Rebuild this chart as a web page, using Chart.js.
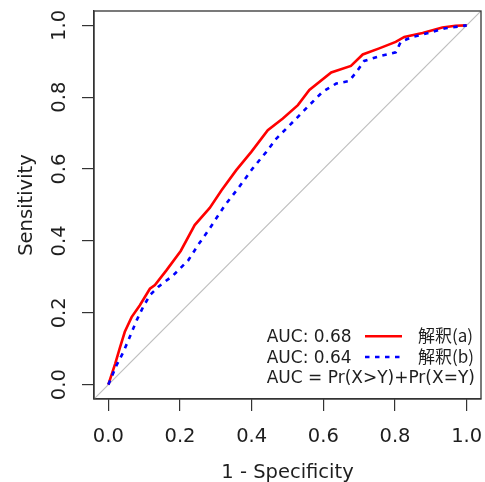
<!DOCTYPE html>
<html><head><meta charset="utf-8">
<script src="https://cdn.jsdelivr.net/npm/chart.js@4/dist/chart.umd.min.js"></script>
<style>html,body{margin:0;padding:0;background:#fff;}</style>
</head><body>
<canvas id="c" width="485" height="482" style="display:block;width:485px;height:482px"></canvas>
<script>
// ROC curve (a): 1 - specificity, sensitivity
const fprA = [0, 0.019, 0.033, 0.046, 0.065, 0.088, 0.116, 0.130, 0.162, 0.202, 0.241, 0.283, 0.316, 0.357, 0.399, 0.445, 0.487, 0.529, 0.561, 0.622, 0.677, 0.710, 0.756, 0.802, 0.826, 0.877, 0.932, 0.969, 1.0];
const tprA = [0, 0.058, 0.105, 0.147, 0.188, 0.221, 0.267, 0.277, 0.318, 0.372, 0.444, 0.492, 0.541, 0.597, 0.648, 0.708, 0.741, 0.778, 0.820, 0.869, 0.887, 0.919, 0.936, 0.954, 0.968, 0.979, 0.994, 0.999, 1.0];
// ROC curve (b)
const fprB = [0, 0.023, 0.042, 0.060, 0.079, 0.097, 0.116, 0.139, 0.181, 0.223, 0.252, 0.283, 0.325, 0.362, 0.403, 0.441, 0.469, 0.515, 0.552, 0.598, 0.636, 0.672, 0.696, 0.714, 0.756, 0.802, 0.816, 0.849, 0.895, 0.941, 1.0];
const tprB = [0, 0.054, 0.091, 0.133, 0.179, 0.216, 0.249, 0.272, 0.304, 0.346, 0.391, 0.435, 0.499, 0.546, 0.602, 0.648, 0.685, 0.731, 0.769, 0.815, 0.838, 0.845, 0.875, 0.901, 0.914, 0.925, 0.954, 0.968, 0.979, 0.992, 1.0];
// chance diagonal (spans the padded axis range)
const diagX = [-0.04, 1.04];
const diagY = [-0.04, 1.04];
const tickValues = [0, 0.2, 0.4, 0.6, 0.8, 1.0];
const tickLabels = ['0.0', '0.2', '0.4', '0.6', '0.8', '1.0'];
const xTitle = '1 - Specificity';
const yTitle = 'Sensitivity';
const aucLabels = ['AUC: 0.68', 'AUC: 0.64'];
const seriesNames = ['解釈(a)', '解釈(b)'];
const aucNote = 'AUC = Pr(X>Y)+Pr(X=Y)';
const axisMin = -0.04, axisMax = 1.04;

const pts = (xs, ys) => xs.map((x, i) => ({x: x, y: ys[i]}));
const TEXT = '#1e1e1e';
const AXIS = '#333333';
const FONT = '"DejaVu Sans", sans-serif';

const decor = {
  id: 'decor',
  afterDraw(chart) {
    const ctx = chart.ctx, ca = chart.chartArea;
    const xs = chart.scales.x, ys = chart.scales.y;
    ctx.save();
    // box
    ctx.strokeStyle = AXIS; ctx.lineWidth = 1.3;
    ctx.strokeRect(ca.left, ca.top, ca.right - ca.left, ca.bottom - ca.top);
    ctx.fillStyle = TEXT;
    ctx.font = '19.5px ' + FONT;
    ctx.textAlign = 'center'; ctx.textBaseline = 'alphabetic';
    tickValues.forEach((v, i) => {
      ctx.fillText(tickLabels[i], xs.getPixelForValue(v), ca.bottom + 42.5);
      ctx.save();
      ctx.translate(ca.left - 29, ys.getPixelForValue(v));
      ctx.rotate(-Math.PI / 2);
      ctx.fillText(tickLabels[i], 0, 0);
      ctx.restore();
    });
    ctx.fillText(xTitle, (ca.left + ca.right) / 2, ca.bottom + 78.5);
    ctx.save();
    ctx.translate(ca.left - 62.5, (ca.top + ca.bottom) / 2);
    ctx.rotate(-Math.PI / 2);
    ctx.fillText(yTitle, 0, 0);
    ctx.restore();
    // legend
    const ds = chart.data.datasets;
    const lx = ca.right - 214.3;
    const base = [ca.bottom - 57.3, ca.bottom - 36.5, ca.bottom - 15.7];
    ctx.textAlign = 'left';
    for (let i = 0; i < 2; i++) {
      ctx.font = '17px ' + FONT;
      ctx.fillStyle = TEXT;
      ctx.fillText(aucLabels[i], lx, base[i]);
      ctx.font = '17px "Noto Sans CJK JP", ' + FONT;
      ctx.fillText(seriesNames[i], ca.right - 63, base[i]);
      ctx.beginPath();
      ctx.strokeStyle = ds[i].borderColor;
      ctx.lineWidth = ds[i].borderWidth;
      ctx.setLineDash(ds[i].borderDash || []);
      const ly = base[i] - 5.5;
      ctx.moveTo(ca.right - 116, ly);
      ctx.lineTo(ca.right - 79, ly);
      ctx.stroke();
      ctx.setLineDash([]);
    }
    ctx.font = '17px ' + FONT;
    ctx.fillStyle = TEXT;
    ctx.fillText(aucNote, lx, base[2]);
    ctx.restore();
  }
};

const gridOpts = {display: true, drawOnChartArea: false, drawTicks: true, tickLength: 12, color: AXIS, lineWidth: 1.2};
const fixTicks = (scale) => { scale.ticks = tickValues.map(v => ({value: v})); };

new Chart(document.getElementById('c'), {
  type: 'line',
  data: {
    datasets: [
      {label: seriesNames[0], data: pts(fprA, tprA), borderColor: '#ff0000', borderWidth: 2.6, pointRadius: 0, tension: 0, order: 1, fill: false},
      {label: seriesNames[1], data: pts(fprB, tprB), borderColor: '#0000ff', borderWidth: 2.6, borderDash: [4.5, 5.5], pointRadius: 0, tension: 0, order: 0, fill: false},
      {label: 'chance', data: pts(diagX, diagY), borderColor: '#bebebe', borderWidth: 1.2, pointRadius: 0, tension: 0, order: 2, fill: false}
    ]
  },
  options: {
    responsive: false,
    animation: false,
    devicePixelRatio: 1,
    layout: {padding: {top: 11, right: 4, left: 0, bottom: 0}},
    plugins: {legend: {display: false}, tooltip: {enabled: false}},
    scales: {
      x: {type: 'linear', min: axisMin, max: axisMax, afterBuildTicks: fixTicks,
          afterFit: (s) => { s.height = 83; },
          grid: gridOpts, border: {display: true, color: AXIS, width: 1.3},
          ticks: {display: false}},
      y: {type: 'linear', min: axisMin, max: axisMax, afterBuildTicks: fixTicks,
          afterFit: (s) => { s.width = 94; },
          grid: gridOpts, border: {display: true, color: AXIS, width: 1.3},
          ticks: {display: false}}
    }
  },
  plugins: [decor]
});
</script>
</body></html>
